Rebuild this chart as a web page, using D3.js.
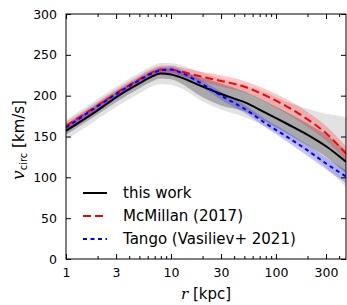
<!DOCTYPE html>
<html>
<head>
<meta charset="utf-8">
<script src="https://cdn.jsdelivr.net/npm/d3@7"></script>
<style>
  body { margin: 0; background: #fff; }
  text { font-family: "DejaVu Sans", sans-serif; fill: #000; }
</style>
</head>
<body>
<svg id="chart" width="347" height="305"></svg>
<script>
// radii in kpc
const radii = [1, 2, 3, 5, 6.5, 8, 10, 12, 20, 30, 50, 80, 130, 200, 300, 465];

// this work: median and two uncertainty bands
const vThis   = [157, 182, 198, 215, 223, 227, 226, 223, 211, 202, 192, 179, 165, 152, 138, 119];
const this2Lo = [146, 171, 186, 203, 211, 214, 213, 210, 193, 183, 174, 162, 146, 131, 112, 88];
const this2Hi = [170, 196, 211, 228, 236, 240, 240, 238, 228, 221, 213, 204, 192, 184, 178, 174];
const this1Lo = [152, 177, 192, 209, 217, 221, 220, 216, 198, 188, 181, 168, 153, 139, 125, 105];
const this1Hi = [164, 189, 204, 221, 229, 233, 233, 230, 222, 215, 205, 193, 179, 166, 152, 133];

// McMillan (2017)
const vMcMillan = [163, 188, 203, 220, 228, 232, 232, 230, 223, 218, 211, 200, 186, 171, 154, 129];
const mcLo      = [158, 183, 198, 215, 223, 227, 227, 225, 217, 211, 204, 192, 177, 162, 145, 120];
const mcHi      = [168, 193, 208, 225, 233, 237, 237, 235, 229, 225, 218, 208, 195, 180, 163, 138];

// Tango (Vasiliev+ 2021)
const vTango  = [161, 187, 202, 219, 227, 231, 232, 229, 214, 200, 184, 166, 149, 133, 117, 101];
const tangoLo = [157, 183, 198, 215, 223, 227, 228, 225, 210, 195, 179, 161, 143, 126, 110, 93];
const tangoHi = [165, 191, 206, 223, 231, 235, 236, 233, 218, 205, 189, 171, 155, 140, 124, 109];

const xTicks = [1, 3, 10, 30, 100, 300];
const yTicks = [0, 50, 100, 150, 200, 250, 300];

const legendItems = [
  { label: "this work", color: "#000", dash: null },
  { label: "McMillan (2017)", color: "red", dash: "8,4" },
  { label: "Tango (Vasiliev+ 2021)", color: "blue", dash: "4,3.5" }
];

const svg = d3.select("#chart");
const pL = 66, pR = 346, pT = 14, pB = 259;

const x = d3.scaleLog().domain([1, 465]).range([pL, pR]);
const y = d3.scaleLinear().domain([0, 300]).range([pB, pT]);

svg.append("clipPath").attr("id", "clip")
  .append("rect").attr("x", pL).attr("y", pT)
  .attr("width", pR - pL).attr("height", pB - pT);

const plot = svg.append("g").attr("clip-path", "url(#clip)");

const curve = d3.curveMonotoneX;
const band = (lo, hi) => d3.area()
  .x((d, i) => x(radii[i]))
  .y0((d, i) => y(lo[i]))
  .y1((d, i) => y(hi[i]))
  .curve(curve)(radii);
const line = vals => d3.line()
  .x((d, i) => x(radii[i]))
  .y((d, i) => y(vals[i]))
  .curve(curve)(radii);

plot.append("path").attr("d", band(this2Lo, this2Hi)).attr("fill", "#e2e2e2");
plot.append("path").attr("d", band(this1Lo, this1Hi)).attr("fill", "#a9a9a9");
plot.append("path").attr("d", band(mcLo, mcHi)).attr("fill", "red").attr("fill-opacity", 0.22);
plot.append("path").attr("d", band(tangoLo, tangoHi)).attr("fill", "blue").attr("fill-opacity", 0.22);

plot.append("path").attr("d", line(vThis))
  .attr("fill", "none").attr("stroke", "#000").attr("stroke-width", 2);
plot.append("path").attr("d", line(vMcMillan))
  .attr("fill", "none").attr("stroke", "red").attr("stroke-width", 2)
  .attr("stroke-dasharray", "8,4");
plot.append("path").attr("d", line(vTango))
  .attr("fill", "none").attr("stroke", "blue").attr("stroke-width", 2)
  .attr("stroke-dasharray", "4,3.5");

// axes, ticks pointing inward
const minor = d3.range(1, 5).flatMap(e => d3.range(2, 10).map(m => m * Math.pow(10, e - 1)))
  .filter(v => v < 465 && !xTicks.includes(v));

svg.append("g").attr("transform", `translate(0,${pB})`)
  .call(d3.axisBottom(x).tickValues(xTicks).tickFormat(d3.format("d")).tickSizeInner(-5).tickSizeOuter(0).tickPadding(9))
  .call(g => g.select(".domain").remove())
  .call(g => g.selectAll("text").attr("font-size", 12.5).attr("font-family", "DejaVu Sans"));
svg.append("g").attr("transform", `translate(0,${pB})`)
  .call(d3.axisBottom(x).tickValues(minor).tickFormat("").tickSizeInner(-3).tickSizeOuter(0))
  .call(g => g.select(".domain").remove());
svg.append("g").attr("transform", `translate(0,${pT})`)
  .call(d3.axisTop(x).tickValues(xTicks).tickFormat("").tickSizeInner(-5).tickSizeOuter(0))
  .call(g => g.select(".domain").remove());
svg.append("g").attr("transform", `translate(0,${pT})`)
  .call(d3.axisTop(x).tickValues(minor).tickFormat("").tickSizeInner(-3).tickSizeOuter(0))
  .call(g => g.select(".domain").remove());

svg.append("g").attr("transform", `translate(${pL},0)`)
  .call(d3.axisLeft(y).tickValues(yTicks).tickSizeInner(-5).tickSizeOuter(0).tickPadding(9))
  .call(g => g.select(".domain").remove())
  .call(g => g.selectAll("text").attr("font-size", 12.5).attr("font-family", "DejaVu Sans"));
svg.append("g").attr("transform", `translate(${pR},0)`)
  .call(d3.axisRight(y).tickValues(yTicks).tickFormat("").tickSizeInner(-5).tickSizeOuter(0))
  .call(g => g.select(".domain").remove());

svg.append("rect")
  .attr("x", pL).attr("y", pT)
  .attr("width", pR - pL).attr("height", pB - pT)
  .attr("fill", "none").attr("stroke", "#000").attr("stroke-width", 1);

// axis labels
const xl = svg.append("text").attr("x", 206).attr("y", 299)
  .attr("text-anchor", "middle").attr("font-size", 15);
xl.append("tspan").attr("font-family", "DejaVu Serif").attr("font-style", "italic").text("r");
xl.append("tspan").text(" [kpc]");

const yl = svg.append("text")
  .attr("transform", "translate(24,140) rotate(-90)")
  .attr("text-anchor", "middle").attr("font-size", 15);
yl.append("tspan").attr("font-family", "DejaVu Serif").attr("font-style", "italic").attr("font-size", 17).text("v");
yl.append("tspan").attr("font-size", 10).attr("dy", 3).text("circ");
yl.append("tspan").attr("dy", -3).text(" [km/s]");

// legend
const leg = svg.append("g");
legendItems.forEach((d, i) => {
  const ly = 193 + i * 23;
  leg.append("line").attr("x1", 83).attr("x2", 107).attr("y1", ly).attr("y2", ly)
    .attr("stroke", d.color).attr("stroke-width", 2)
    .attr("stroke-dasharray", d.dash);
  leg.append("text").attr("x", 123).attr("y", ly).attr("dy", "0.35em")
    .attr("font-size", 15).text(d.label);
});
</script>
</body>
</html>
